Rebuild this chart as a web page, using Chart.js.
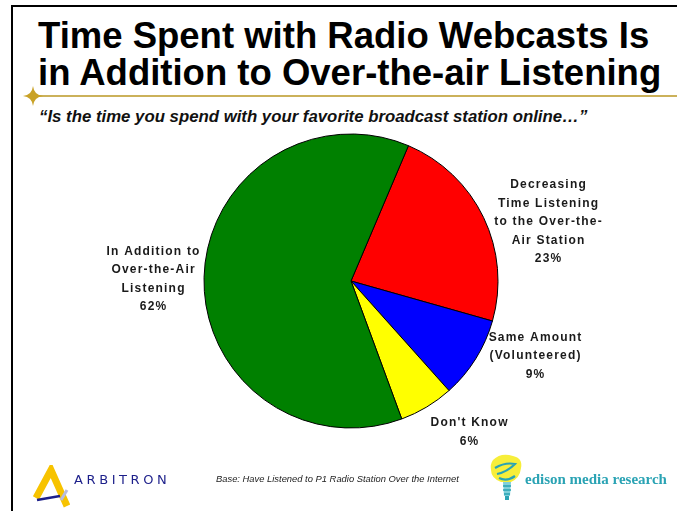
<!DOCTYPE html>
<html>
<head>
<meta charset="utf-8">
<script src="https://cdn.jsdelivr.net/npm/chart.js@4/dist/chart.umd.min.js"></script>
<style>
  body { margin: 0; width: 677px; height: 511px; overflow: hidden; background: #fff; position: relative;
         font-family: "Liberation Sans", Arial, sans-serif; }
  #moldura { position: absolute; left: 11px; top: 5px; width: 700px; height: 540px;
             border-left: 2px solid #000; border-top: 2px solid #000; }
  .titulo { position: absolute; left: 38px; font-weight: bold; font-size: 36.5px; line-height: 36px;
            color: #000; white-space: nowrap; }
  #linhaOuro { position: absolute; left: 36px; top: 95px; width: 650px; height: 2px; background: #cbb15a; }
  #estrela { position: absolute; left: 23px; top: 86px; }
  #subtitulo { position: absolute; left: 39px; top: 107px; font-weight: bold; font-style: italic;
               font-size: 16.8px; color: #111; white-space: nowrap; }
  #grafico { position: absolute; left: 0; top: 0; }
  #base { position: absolute; left: 216px; top: 473px; font-style: italic; font-size: 9.4px; color: #222;
          white-space: nowrap; }
  #arbitron { position: absolute; left: 74px; top: 472px; font-size: 13px; letter-spacing: 3.6px;
              color: #1c1f8a; white-space: nowrap; font-family: "DejaVu Sans", sans-serif; }
  #edison { position: absolute; left: 525px; top: 471px; font-family: "Liberation Serif", serif;
            font-weight: bold; font-size: 15px; color: #2aa3b4; white-space: nowrap; }
  svg { position: absolute; }
</style>
</head>
<body>
<div id="moldura"></div>
<div class="titulo" style="top:18px">Time Spent with Radio Webcasts Is</div>
<div class="titulo" style="top:55px">in Addition to Over-the-air Listening</div>
<div id="linhaOuro"></div>
<svg id="estrela" width="20" height="20" viewBox="0 0 20 20">
  <path d="M10 0 Q11 9 20 10 Q11 11 10 20 Q9 11 0 10 Q9 9 10 0 Z" fill="#c9a227"/>
</svg>
<div id="subtitulo">“Is the time you spend with your favorite broadcast station online…”</div>
<canvas id="grafico" width="677" height="511"></canvas>

<!-- rodapé: logotipos e base -->
<svg style="left:30px;top:465px" width="45" height="46" viewBox="0 0 45 46">
  <path d="M6 33 L21 5 L37 41" fill="none" stroke="#f7c300" stroke-width="7" stroke-linejoin="miter"/>
  <path d="M7 35 L30 31" stroke="#1c1f8a" stroke-width="2.5"/>
  <path d="M31 35 L37 25" stroke="#b8bce0" stroke-width="3"/>
</svg>
<div id="arbitron">ARBITRON</div>
<div id="base">Base: Have Listened to P1 Radio Station Over the Internet</div>
<svg style="left:487px;top:452px" width="40" height="56" viewBox="0 0 40 56">
  <path d="M6 8 Q14 0 26 4 Q36 6 34 16 Q33 26 24 30 L14 30 Q4 26 4 18 Q3 12 6 8 Z" fill="#f7ee3a"/>
  <path d="M8 16 Q18 10 28 12 Q20 20 10 22 M12 26 Q20 30 28 24" fill="none" stroke="#2aa3b4" stroke-width="2.2"/>
  <path d="M16 30 L24 30 L23 44 L17 44 Z" fill="#7fd0da"/>
  <path d="M16 34 H24 M16 38 H24 M17 42 H23" stroke="#2aa3b4" stroke-width="1.5"/>
  <path d="M18 44 H22 V48 H18 Z" fill="#2aa3b4"/>
</svg>
<div id="edison">edison media research</div>

<script>
// Dados do gráfico (percentuais)
const categorias = [
  ["Decreasing", "Time Listening", "to the Over-the-", "Air Station"],
  ["Same Amount", "(Volunteered)"],
  ["Don't Know"],
  ["In Addition to", "Over-the-Air", "Listening"]
];
const percentuais = [23, 9, 6, 62];
const cores = ["#ff0000", "#0000ff", "#ffff00", "#008000"];

// deslocamento de cada rótulo em relação ao centro da pizza
const posRotulos = [[197, -59], [184, 75], [118, 151], [-198, -2]];

// Plugin para escrever os rótulos fora das fatias
const rotulosPlugin = {
  id: "rotulos",
  afterDraw(chart) {
    const ctx = chart.ctx;
    const meta = chart.getDatasetMeta(0);
    ctx.save();
    ctx.font = "bold 12px 'Liberation Sans', Arial, sans-serif";
    ctx.fillStyle = "#1a1a1a";
    ctx.textAlign = "center";
    ctx.textBaseline = "middle";
    ctx.letterSpacing = "1.2px";
    meta.data.forEach((arco, i) => {
      const linhas = categorias[i].concat([percentuais[i] + "%"]);
      const cx = arco.x + posRotulos[i][0];
      const cy = arco.y + posRotulos[i][1];
      const passo = 18.5;
      const y0 = cy - (linhas.length - 1) * passo / 2;
      linhas.forEach((t, j) => ctx.fillText(t, cx + 0.6, y0 + j * passo));
    });
    ctx.restore();
  }
};

new Chart(document.getElementById("grafico"), {
  type: "pie",
  data: {
    labels: categorias.map(c => c.join(" ")),
    datasets: [{
      data: percentuais,
      backgroundColor: cores,
      borderColor: "#000",
      borderWidth: 1
    }]
  },
  options: {
    responsive: false,
    animation: false,
    events: [],
    rotation: 23,
    radius: 147,
    layout: { padding: { left: 200, right: 175, top: 130, bottom: 79 } },
    plugins: {
      legend: { display: false },
      tooltip: { enabled: false }
    }
  },
  plugins: [rotulosPlugin]
});
</script>
</body>
</html>
